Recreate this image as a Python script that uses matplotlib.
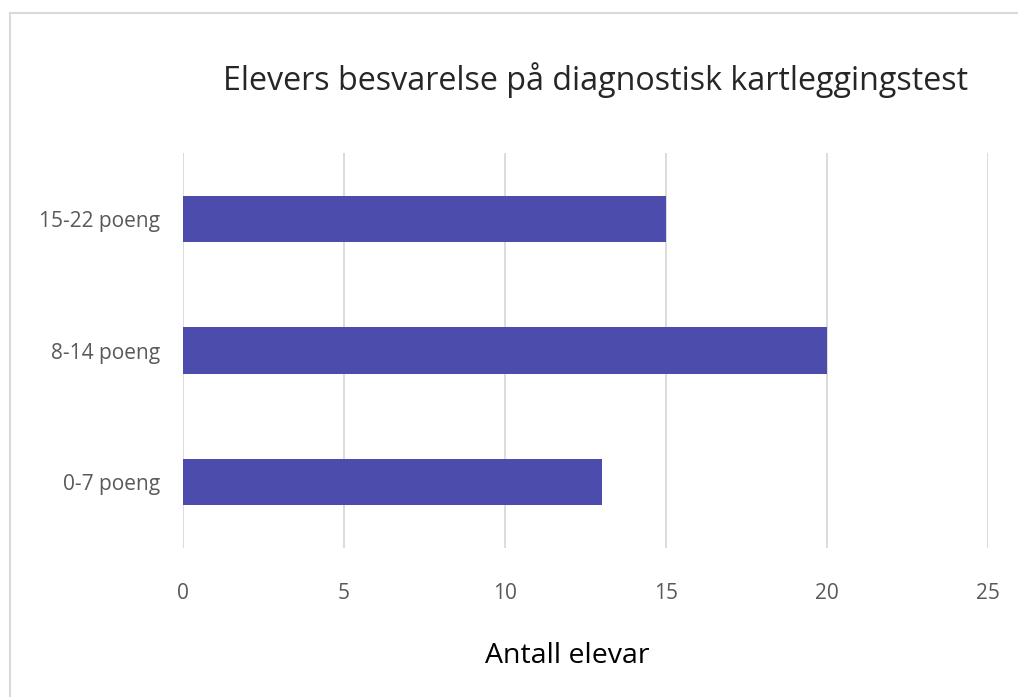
import matplotlib
matplotlib.use("Agg")
import matplotlib.pyplot as plt
from matplotlib.lines import Line2D

# Data
categories = ["0-7 poeng", "8-14 poeng", "15-22 poeng"]
counts = [13, 20, 15]
x_ticks = [0, 5, 10, 15, 20, 25]

plt.rcParams["font.family"] = ["Open Sans", "DejaVu Sans"]

fig = plt.figure(figsize=(10.18, 6.97), dpi=100)
ax = fig.add_axes([183 / 1018, 149 / 697, 805 / 1018, 395 / 697])

ax.barh(range(len(categories)), counts, height=0.35, color="#4B4CAC", zorder=3)

ax.set_xlim(0, 25)
ax.set_ylim(-0.5, len(categories) - 0.5)
ax.set_xticks(x_ticks)
ax.set_yticks(range(len(categories)))
ax.set_yticklabels(categories)

ax.grid(axis="x", color="#D9D9D9", linewidth=1.3, zorder=0)
for side in ["top", "right", "bottom", "left"]:
    ax.spines[side].set_visible(False)
ax.tick_params(axis="both", length=0, colors="#595959", labelsize=15)
ax.tick_params(axis="x", pad=25)
ax.tick_params(axis="y", pad=16.5)

fig.text(596 / 1018, 1 - 80 / 697, "Elevers besvarelse på diagnostisk kartleggingstest",
         ha="center", va="center", fontsize=23.2, color="#262626")
fig.text(567 / 1018, 1 - 656 / 697, "Antall elevar",
         ha="center", va="center", fontsize=20.5, color="#000000")

# chart frame (only top and left edges fall inside the picture)
fig.add_artist(Line2D([10 / 1018, 1.0], [1 - 13 / 697, 1 - 13 / 697],
                      transform=fig.transFigure, color="#D9D9D9", linewidth=1.5))
fig.add_artist(Line2D([10 / 1018, 10 / 1018], [0.0, 1 - 13 / 697],
                      transform=fig.transFigure, color="#D9D9D9", linewidth=1.5))

fig.savefig("out.png", dpi=100)
